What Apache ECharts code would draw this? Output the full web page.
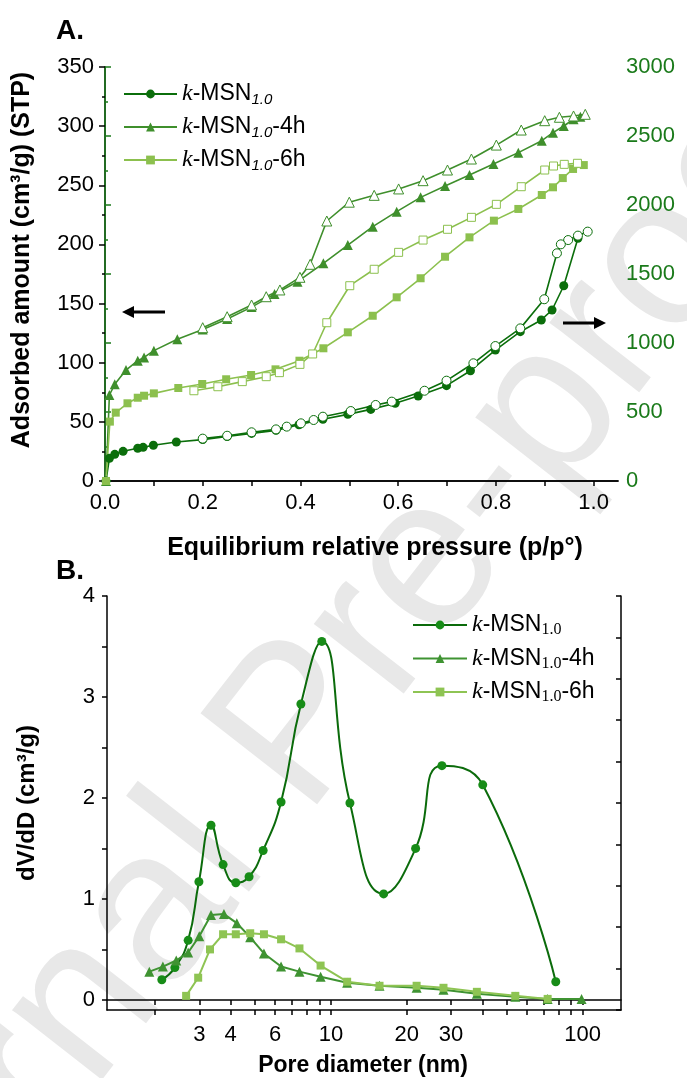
<!DOCTYPE html>
<html><head><meta charset="utf-8">
<script src="https://cdn.jsdelivr.net/npm/echarts@6/dist/echarts.min.js"></script>
<style>html,body{margin:0;padding:0;background:#fff}#c{width:687px;height:1078px}</style>
</head><body><div id="c"></div>
<script>
// ===== Panel A: isotherms [p/p0, adsorbed amount] =====
const msnAds = [[0.002,0],[0.009,164],[0.020,193],[0.037,215],[0.067,237],[0.078,244],[0.099,259],[0.146,283],[0.20,300],[0.25,322],[0.30,345],[0.35,367],[0.397,408],[0.446,447],[0.497,483],[0.544,519],[0.594,563],[0.641,616],[0.699,691],[0.748,799],[0.799,949],[0.850,1082],[0.893,1167],[0.915,1239],[0.939,1415],[0.968,1759]];
const msnDes = [[0.988,1807],[0.968,1778],[0.948,1746],[0.933,1715],[0.925,1650],[0.899,1317],[0.850,1106],[0.799,978],[0.754,853],[0.699,727],[0.654,654],[0.587,575],[0.554,551],[0.503,507],[0.446,466],[0.427,442],[0.401,418],[0.372,394],[0.35,374],[0.30,353],[0.25,328],[0.20,307]];
const h4Ads = [[0.002,0],[0.009,72.7],[0.020,81.7],[0.043,93.8],[0.067,101.7],[0.080,104.5],[0.100,110.2],[0.148,119.8],[0.20,128],[0.25,137],[0.30,147],[0.347,158],[0.394,168.5],[0.447,184],[0.497,199.5],[0.548,215],[0.597,227.7],[0.646,239.8],[0.696,249.4],[0.746,258.7],[0.795,268],[0.846,277.6],[0.894,287.7],[0.917,294.5],[0.939,300.1],[0.959,305.8],[0.973,308]];
const h4Des = [[0.983,310],[0.959,308.6],[0.930,307.5],[0.90,304.6],[0.852,296.7],[0.801,284],[0.750,272.2],[0.701,262.9],[0.651,253.9],[0.601,246.9],[0.551,241.5],[0.50,235.7],[0.454,219.8],[0.420,183.2],[0.399,172.2],[0.358,161.5],[0.330,155.8],[0.30,148.8],[0.25,138.9],[0.20,129.6]];
const h6Ads = [[0.002,0],[0.010,50.2],[0.022,57.8],[0.046,65.7],[0.067,70.4],[0.080,72.1],[0.100,74.1],[0.150,78.6],[0.199,82],[0.248,86],[0.299,89.6],[0.349,94.4],[0.398,101.7],[0.447,112.2],[0.497,125.7],[0.548,139.7],[0.597,155.3],[0.646,171.4],[0.696,189.6],[0.746,206],[0.796,220.1],[0.846,230],[0.894,241.8],[0.917,248.3],[0.937,256.1],[0.958,263.8],[0.980,267.1]];
const h6Des = [[0.967,268.6],[0.940,267.7],[0.918,266.3],[0.90,262.9],[0.852,248.8],[0.801,233.9],[0.750,222.9],[0.701,212.8],[0.651,203.7],[0.601,193.3],[0.551,179],[0.501,165.1],[0.454,133.8],[0.425,107.4],[0.399,98.6],[0.357,91.6],[0.330,88.2],[0.281,84],[0.231,79.7],[0.182,76.3]];
const aXLabels = [0,0.2,0.4,0.6,0.8,1.0];
const aXTicks = [0,0.1,0.2,0.3,0.4,0.5,0.6,0.7,0.8,0.9,1.0];

// ===== Panel B: pore size distribution [diameter nm, dV/dD] =====
const psdMsn = [[2.13,0.20],[2.40,0.32],[2.71,0.59],[2.99,1.17],[3.34,1.73],[3.73,1.34],[4.19,1.16],[4.73,1.22],[5.38,1.48],[6.34,1.96],[7.6,2.93],[9.2,3.55],[11.9,1.95],[16.2,1.05],[21.7,1.50],[27.6,2.32],[40.1,2.13],[78.2,0.18]];
const psd4h = [[1.90,0.28],[2.15,0.33],[2.43,0.39],[2.71,0.47],[3.0,0.63],[3.34,0.84],[3.76,0.85],[4.23,0.76],[4.78,0.62],[5.42,0.46],[6.34,0.33],[7.5,0.28],[9.1,0.23],[11.6,0.17],[15.6,0.14],[21.9,0.12],[28,0.10],[38,0.06],[54,0.03],[72.6,0.01],[99,0.01]];
const psd6h = [[2.66,0.04],[2.97,0.22],[3.31,0.50],[3.73,0.65],[4.19,0.65],[4.78,0.66],[5.42,0.65],[6.34,0.60],[7.5,0.51],[9.1,0.34],[11.6,0.18],[15.6,0.14],[21.9,0.14],[28,0.12],[38,0.08],[54,0.04],[72.6,0.01]];
const bXLabels = [3,4,6,10,20,30,100];
const bXTicks = [2,3,4,5,6,7,8,9,10,20,30,40,50,60,70,80,90,100];
const bYLabels = [0,1,2,3,4];
const bYTicks = [0,0.5,1,1.5,2,2.5,3,3.5,4];
const bXRange = [1.29, 142];

const C1 = '#0b6e0b', C2 = '#3f8f2c', C3 = '#8cc04e';
const B1L = '#0b6b0b', B1M = '#178c17', B2 = '#3f9332', B3 = '#8ec453';
const F = 'Liberation Sans, Arial, sans-serif';
const lg = v => Math.log10(v);

function isoSeries(name, data, yIdx, color, symbol, size, open) {
  return {
    name, type: 'line', xAxisIndex: 0, yAxisIndex: yIdx, data,
    symbol, symbolSize: size, clip: false,
    lineStyle: { color, width: 1.6 },
    itemStyle: open ? { color: '#fff', borderColor: color, borderWidth: 1 } : { color },
    emphasis: { disabled: true }, z: open ? 4 : 3
  };
}
function psdSeries(name, data, lineColor, markColor, symbol, size, smooth) {
  return {
    name, type: 'line', xAxisIndex: 2, yAxisIndex: 2,
    data: data.map(d => [lg(d[0]), d[1]]),
    symbol, symbolSize: size, smooth, clip: false,
    lineStyle: { color: lineColor, width: 2 },
    itemStyle: { color: markColor },
    emphasis: { disabled: true }
  };
}
function legendFmt(name) {
  const n = name.replace(/^B\|/, '');
  const suf = n.slice(8);
  return '{k|k}{t|-MSN}{s|1.0}' + (suf ? '{t|' + suf + '}' : '');
}
const richA = {
  k: { fontFamily: 'Liberation Serif, serif', fontStyle: 'italic', fontSize: 24, lineHeight: 26 },
  t: { fontFamily: F, fontSize: 23, lineHeight: 26 },
  s: { fontFamily: F, fontStyle: 'italic', fontSize: 15, lineHeight: 10, verticalAlign: 'bottom' }
};
const richB = {
  k: { fontFamily: 'Liberation Serif, serif', fontStyle: 'italic', fontSize: 24, lineHeight: 26 },
  t: { fontFamily: F, fontSize: 23, lineHeight: 26 },
  s: { fontFamily: 'Liberation Serif, serif', fontSize: 16, lineHeight: 10, verticalAlign: 'bottom' }
};
const axLine = { show: true, lineStyle: { color: '#000', width: 1.5 } };

const chart = echarts.init(document.getElementById('c'), null, { renderer: 'canvas' });
chart.setOption({
  animation: false,
  backgroundColor: '#fff',
  grid: [
    { left: 105, top: 67, width: 513, height: 414 },
    { left: 107, top: 596, width: 514, height: 414 }
  ],
  legend: [
    { orient: 'vertical', left: 123, top: 82, padding: 0, itemWidth: 53, itemHeight: 11, itemGap: 8, selectedMode: false,
      data: ['k-MSN1.0', 'k-MSN1.0-4h', 'k-MSN1.0-6h'], formatter: legendFmt,
      textStyle: { color: '#000', rich: richA } },
    { orient: 'vertical', left: 412, top: 613, padding: 0, itemWidth: 54, itemHeight: 11, itemGap: 8.5, selectedMode: false,
      data: ['B|k-MSN1.0', 'B|k-MSN1.0-4h', 'B|k-MSN1.0-6h'], formatter: legendFmt,
      textStyle: { color: '#000', rich: richB } }
  ],
  xAxis: [
    { type: 'value', gridIndex: 0, min: 0, max: 1.05, position: 'bottom', axisLine: axLine,
      axisTick: { show: true, length: 5, customValues: aXTicks, lineStyle: { color: '#000', width: 1.5 } },
      axisLabel: { customValues: aXLabels, formatter: v => v.toFixed(1), fontFamily: F, fontSize: 22, color: '#000', margin: 11 },
      splitLine: { show: false } },
    { type: 'value', gridIndex: 0, min: 0, max: 1.05, position: 'top', axisLine: axLine,
      axisTick: { show: false }, axisLabel: { show: false }, splitLine: { show: false } },
    { type: 'value', gridIndex: 1, min: lg(bXRange[0]), max: lg(bXRange[1]), position: 'bottom', axisLine: axLine,
      axisTick: { show: true, length: 5, customValues: bXTicks.map(lg), lineStyle: { color: '#000', width: 1.5 } },
      axisLabel: { customValues: bXLabels.map(lg), formatter: v => String(Math.round(Math.pow(10, v))), fontFamily: F, fontSize: 22, color: '#000', margin: 14 },
      splitLine: { show: false } },
    { type: 'value', gridIndex: 1, min: lg(bXRange[0]), max: lg(bXRange[1]), position: 'top', axisLine: axLine,
      axisTick: { show: true, inside: true, length: 5, customValues: bXTicks.map(lg), lineStyle: { color: '#000', width: 1.5 } },
      axisLabel: { show: false }, splitLine: { show: false } }
  ],
  yAxis: [
    { type: 'value', gridIndex: 0, min: 0, max: 350, interval: 50, position: 'left', axisLine: axLine,
      axisTick: { show: true, length: 6, lineStyle: { color: '#000', width: 1.5 } },
      minorTick: { show: true, splitNumber: 2, length: 3, lineStyle: { color: '#000', width: 1.5 } },
      axisLabel: { fontFamily: F, fontSize: 22, color: '#000', margin: 11 }, splitLine: { show: false }, minorSplitLine: { show: false } },
    { type: 'value', gridIndex: 0, min: 0, max: 3000, interval: 500, position: 'right',
      axisLine: { show: true, lineStyle: { color: '#1a7a1a', width: 1.5 } },
      axisTick: { show: true, length: 6, lineStyle: { color: '#1a7a1a', width: 1.5 } },
      minorTick: { show: true, splitNumber: 2, length: 3, lineStyle: { color: '#1a7a1a', width: 1.5 } },
      axisLabel: { formatter: v => String(v), fontFamily: F, fontSize: 22, color: '#1a7a1a', margin: 8 }, splitLine: { show: false }, minorSplitLine: { show: false } },
    { type: 'value', gridIndex: 1, min: -0.1, max: 4, position: 'left', axisLine: axLine,
      axisTick: { show: true, length: 5, customValues: bYTicks, lineStyle: { color: '#000', width: 1.5 } },
      axisLabel: { customValues: bYLabels, formatter: v => String(v), fontFamily: F, fontSize: 22, color: '#000', margin: 12 },
      splitLine: { show: false } },
    { type: 'value', gridIndex: 1, min: 0, max: 10, interval: 1, position: 'right', axisLine: axLine,
      axisTick: { show: true, inside: true, length: 5, lineStyle: { color: '#000', width: 1.5 } },
      axisLabel: { show: false }, splitLine: { show: false } }
  ],
  series: [
    isoSeries('k-MSN1.0', msnAds, 1, C1, 'circle', 9, false),
    isoSeries('msn-des', msnDes, 1, C1, 'circle', 9, true),
    isoSeries('k-MSN1.0-4h', h4Ads, 0, C2, 'triangle', 10, false),
    isoSeries('4h-des', h4Des, 0, C2, 'triangle', 10, true),
    isoSeries('k-MSN1.0-6h', h6Ads, 0, C3, 'rect', 8, false),
    isoSeries('6h-des', h6Des, 0, C3, 'rect', 8, true),
    psdSeries('B|k-MSN1.0', psdMsn, B1L, B1M, 'circle', 9, 0.5),
    psdSeries('B|k-MSN1.0-4h', psd4h, B2, B2, 'triangle', 10, false),
    psdSeries('B|k-MSN1.0-6h', psd6h, B3, B3, 'rect', 8, false)
  ],
  graphic: [
    { type: 'text', silent: true, z: -10, x: 300, y: 730, rotation: 52 * Math.PI / 180,
      style: { text: 'Journal Pre-proof', fontFamily: F, fontSize: 215, fill: '#e8e8e8', textAlign: 'center', textVerticalAlign: 'middle' } },
    { type: 'text', x: 56, y: 31, style: { text: 'A.', fontFamily: F, fontWeight: 'bold', fontSize: 28, fill: '#000', textAlign: 'left', textVerticalAlign: 'middle' } },
    { type: 'text', x: 56, y: 571, style: { text: 'B.', fontFamily: F, fontWeight: 'bold', fontSize: 28, fill: '#000', textAlign: 'left', textVerticalAlign: 'middle' } },
    { type: 'text', x: 22, y: 260, rotation: Math.PI / 2, style: { text: 'Adsorbed amount (cm³/g) (STP)', fontFamily: F, fontWeight: 'bold', fontSize: 25, fill: '#000', textAlign: 'center', textVerticalAlign: 'middle' } },
    { type: 'text', x: 375, y: 548, style: { text: 'Equilibrium relative pressure (p/p°)', fontFamily: F, fontWeight: 'bold', fontSize: 25, fill: '#000', textAlign: 'center', textVerticalAlign: 'middle' } },
    { type: 'text', x: 27, y: 803, rotation: Math.PI / 2, style: { text: 'dV/dD (cm³/g)', fontFamily: F, fontWeight: 'bold', fontSize: 24, fill: '#000', textAlign: 'center', textVerticalAlign: 'middle' } },
    { type: 'text', x: 363, y: 1066, style: { text: 'Pore diameter (nm)', fontFamily: F, fontWeight: 'bold', fontSize: 23, fill: '#000', textAlign: 'center', textVerticalAlign: 'middle' } },
    { type: 'polyline', shape: { points: [[165, 312], [130, 312]] }, style: { stroke: '#000', lineWidth: 3 } },
    { type: 'polygon', shape: { points: [[122, 312], [134, 306], [134, 318]] }, style: { fill: '#000' } },
    { type: 'polyline', shape: { points: [[563, 323], [598, 323]] }, style: { stroke: '#000', lineWidth: 3 } },
    { type: 'polygon', shape: { points: [[606, 323], [594, 317], [594, 329]] }, style: { fill: '#000' } }
  ]
});
</script>
</body></html>
